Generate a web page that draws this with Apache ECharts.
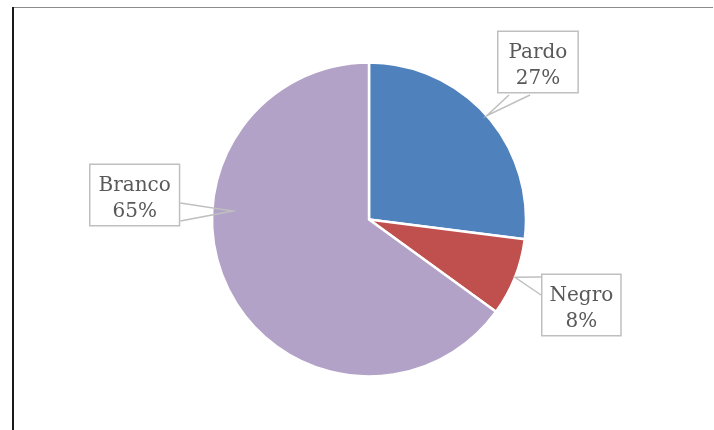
<!DOCTYPE html>
<html>
<head>
<meta charset="utf-8">
<title>Distribuição por cor</title>
<script src="https://cdn.jsdelivr.net/npm/echarts@6/dist/echarts.min.js"></script>
<style>
  html, body { margin: 0; padding: 0; background: #fff; }
  #chart { width: 714px; height: 430px; }
</style>
</head>
<body>
<div id="chart"></div>
<script>
// Categories and their shares (%)
const categories = ['Pardo', 'Negro', 'Branco'];
const values = [27, 8, 65];
const colors = ['#4F81BD', '#C0504D', '#B3A2C7'];

// Callout placement: box top-left corner, horizontal padding, which side the
// pointer leaves from, where along that side it starts/ends, optional tip.
const callouts = {
  Pardo:  { x: 497, y: 32,  padX: 10, side: 'bottom', from: 12, to: 33 },
  Negro:  { x: 541, y: 275, padX: 7,  side: 'left',   from: 2,  to: 20 },
  Branco: { x: 89,  y: 165, padX: 8,  side: 'right',  from: 38, to: 56, tip: [233, 211] }
};

const PIE_CENTER = [369, 219.5];
const PIE_RADIUS = 157;

const chart = echarts.init(document.getElementById('chart'), null, { renderer: 'canvas' });

const sliceData = categories.map((name, i) => ({
  name: name,
  value: values[i],
  itemStyle: { color: colors[i] }
}));

// same slices, invisible, only used to carry the callouts above the pie
const calloutData = categories.map((name, i) => ({
  name: name,
  value: values[i],
  label: { padding: [8, callouts[name].padX, 0, callouts[name].padX] }
}));

chart.setOption({
  animation: false,
  backgroundColor: '#ffffff',
  graphic: [
    // chart frame: thin top rule and dark left rule
    { type: 'line', shape: { x1: 12, y1: 7.5, x2: 713, y2: 7.5 }, style: { stroke: '#8c8c8c', lineWidth: 1.2 } },
    { type: 'line', shape: { x1: 13, y1: 7, x2: 13, y2: 430 }, style: { stroke: '#1a1a1a', lineWidth: 2 } }
  ],
  series: [
    {
      type: 'pie',
      z: 2,
      center: PIE_CENTER,
      radius: [0, PIE_RADIUS],
      startAngle: 90,
      clockwise: true,
      silent: true,
      data: sliceData,
      itemStyle: { borderColor: '#ffffff', borderWidth: 2.5 },
      label: { show: false },
      labelLine: { show: false }
    },
    {
      type: 'pie',
      z: 5,
      center: PIE_CENTER,
      radius: [0, PIE_RADIUS],
      startAngle: 90,
      clockwise: true,
      silent: true,
      data: calloutData,
      itemStyle: { color: 'rgba(0,0,0,0)', borderWidth: 0 },
      label: {
        show: true,
        position: 'outside',
        formatter: '{b}\n{d}%',
        fontFamily: 'DejaVu Serif',
        fontSize: 20,
        lineHeight: 26,
        color: '#595959',
        align: 'center',
        backgroundColor: '#ffffff',
        borderColor: '#BFBFBF',
        borderWidth: 1.5,
        padding: [8, 9, 0, 9]
      },
      labelLine: {
        show: true,
        smooth: false,
        lineStyle: { color: '#BFBFBF', width: 1.5 }
      },
      labelLayout: function (params) {
        const name = categories[params.dataIndex];
        const c = callouts[name];
        const w = params.labelRect.width;
        const h = params.labelRect.height;
        const tip = c.tip || params.labelLinePoints[0];
        let a, b;
        if (c.side === 'bottom') {
          a = [c.x + c.from, c.y + h];
          b = [c.x + c.to, c.y + h];
        } else if (c.side === 'left') {
          a = [c.x, c.y + c.from];
          b = [c.x, c.y + c.to];
        } else {
          a = [c.x + w, c.y + c.from];
          b = [c.x + w, c.y + c.to];
        }
        return {
          x: c.x + w / 2,
          y: c.y,
          align: 'center',
          verticalAlign: 'top',
          labelLinePoints: [a, tip, b]
        };
      }
    }
  ]
});
</script>
</body>
</html>
